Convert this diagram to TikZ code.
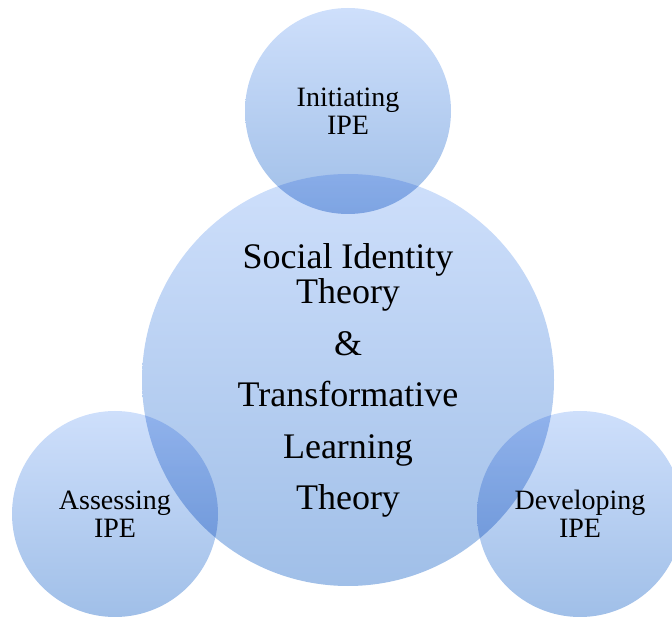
\documentclass[tikz,border=0pt]{standalone}
\usepackage{fontspec}
\setmainfont{Liberation Serif}
\usepackage{tikz}
\usetikzlibrary{shapes,positioning}
\definecolor{bubtop}{RGB}{206,223,251}
\definecolor{bubbot}{RGB}{160,191,232}

\begin{document}
\begin{tikzpicture}[x=1pt, y=-1pt,
    bubble/.style={circle, inner sep=0pt, minimum size=206pt, top color=bubtop, bottom color=bubbot, align=center, font=\fontsize{28}{28}\selectfont},
    core/.style={bubble, minimum size=412pt, font=\fontsize{36}{35}\selectfont}
]
\useasboundingbox (0,0) rectangle (672,617);
\clip (0,0) rectangle (672,617);

\begin{scope}[blend mode=multiply]
% Central theory
\node[core] (theory) at (348, 380) {Social Identity\\Theory\\[17pt]\&\\[16pt]Transformative\\[17pt]Learning\\[16pt]Theory};

% Stages
\node[bubble] (init) at (348, 111) {Initiating\\IPE};
\node[bubble] (assess) at (115, 514) {Assessing\\IPE};
\node[bubble] (develop) at (580, 514) {Developing\\IPE};
\end{scope}

\end{tikzpicture}
\end{document}
